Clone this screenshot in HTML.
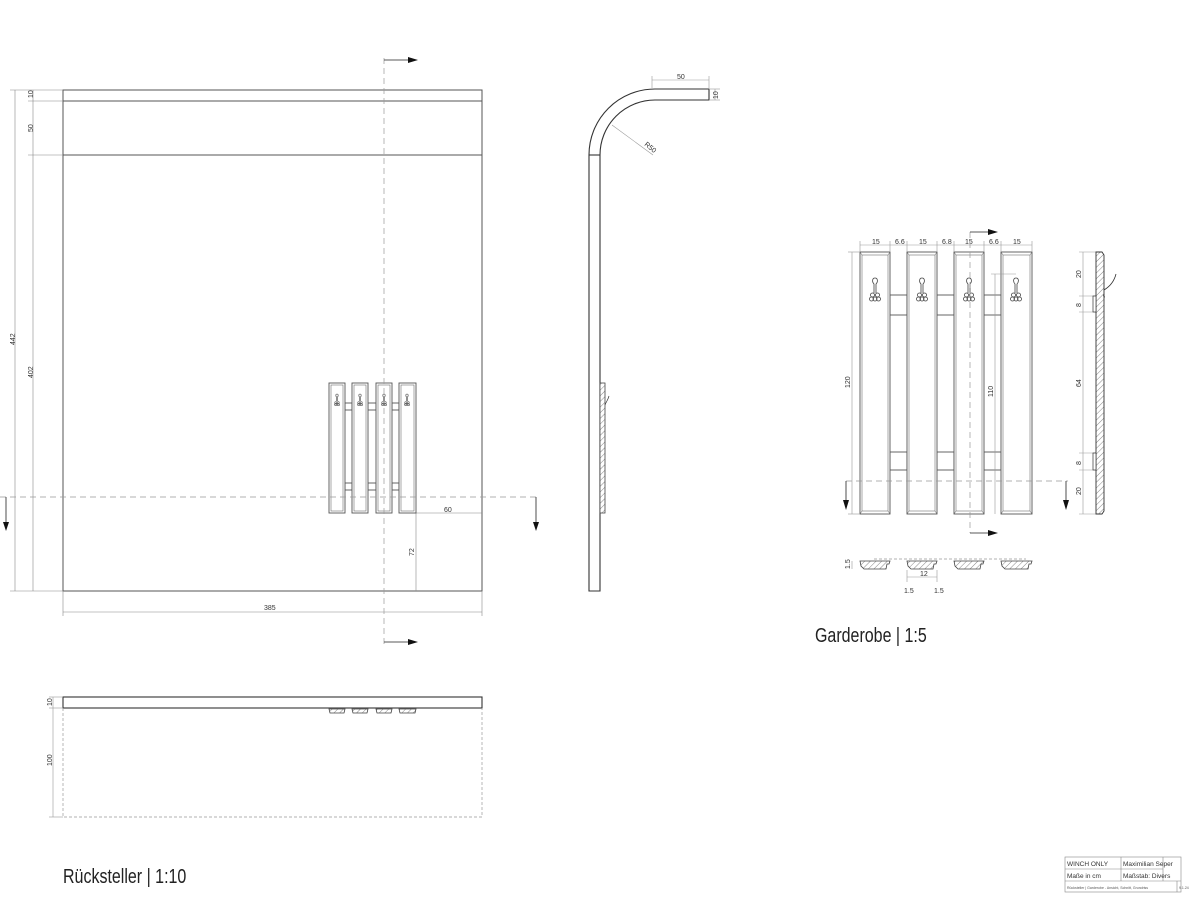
<!DOCTYPE html>
<html><head><meta charset="utf-8"><style>
html,body{margin:0;padding:0;background:#fff;}
svg{display:block;font-family:"Liberation Sans Narrow","Liberation Sans",sans-serif;}
.t{font-size:7px;fill:#333;}
</style></head><body>
<svg width="1200" height="900" viewBox="0 0 1200 900" xmlns="http://www.w3.org/2000/svg">
<defs>
<pattern id="h" width="4" height="4" patternUnits="userSpaceOnUse" patternTransform="rotate(45)">
<rect width="4" height="4" fill="#fff"/><line x1="0" y1="0" x2="0" y2="4" stroke="#555" stroke-width="0.7"/></pattern>
<g id="hook" fill="none" stroke="#444" stroke-width="0.8">
<path d="M0,-12 c-3,0 -3,4 -1,6 l0,9 M0,-12 c3,0 3,4 1,6 l0,9"/>
<circle cx="-2.5" cy="5" r="2"/><circle cx="2.5" cy="5" r="2"/>
<circle cx="-3.5" cy="9" r="2"/><circle cx="0" cy="9" r="2"/><circle cx="3.5" cy="9" r="2"/>
</g>
<g id="hooks" fill="none" stroke="#444" stroke-width="0.6">
<path d="M0,-6 c-1.5,0 -1.5,2 -0.5,3 l0,4 M0,-6 c1.5,0 1.5,2 0.5,3 l0,4"/>
<circle cx="-1.2" cy="2.5" r="1"/><circle cx="1.2" cy="2.5" r="1"/>
<circle cx="-1.6" cy="4.5" r="1"/><circle cx="0" cy="4.5" r="1"/><circle cx="1.6" cy="4.5" r="1"/>
</g>
</defs>

<!-- ========== Front view Rücksteller ========== -->
<g stroke="#555" fill="none" stroke-width="1">
<rect x="63" y="90" width="419" height="501"/>
<line x1="63" y1="101" x2="482" y2="101"/>
<line x1="63" y1="155" x2="482" y2="155"/>
</g>
<g stroke="#888" stroke-width="0.6" fill="none">
<line x1="15" y1="90" x2="15" y2="591"/>
<line x1="33" y1="90" x2="33" y2="591"/>
<line x1="10" y1="90" x2="63" y2="90"/>
<line x1="28" y1="101" x2="63" y2="101"/>
<line x1="28" y1="155" x2="63" y2="155"/>
<line x1="10" y1="591" x2="63" y2="591"/>
<line x1="63" y1="591" x2="63" y2="616"/>
<line x1="482" y1="591" x2="482" y2="616"/>
<line x1="63" y1="612" x2="482" y2="612"/>
<line x1="416" y1="513" x2="482" y2="513"/>
<line x1="416" y1="513" x2="416" y2="591"/>
</g>
<text class="t" transform="translate(33,98) rotate(-90)">10</text>
<text class="t" transform="translate(33,132) rotate(-90)">50</text>
<text class="t" transform="translate(15,345) rotate(-90)">442</text>
<text class="t" transform="translate(33,378) rotate(-90)">402</text>
<text class="t" x="264" y="610">385</text>
<text class="t" x="444" y="512">60</text>
<text class="t" transform="translate(414,556) rotate(-90)">72</text>

<!-- small garderobe in front view -->
<g stroke="#555" fill="#fff" stroke-width="0.9">
<rect x="345" y="403" width="7" height="7"/><rect x="368" y="403" width="8" height="7"/><rect x="392" y="403" width="7" height="7"/>
<rect x="345" y="483" width="7" height="7"/><rect x="368" y="483" width="8" height="7"/><rect x="392" y="483" width="7" height="7"/>
<rect x="329" y="383" width="16" height="130"/><rect x="352" y="383" width="16" height="130"/>
<rect x="376" y="383" width="16" height="130"/><rect x="399" y="383" width="17" height="130"/>
<rect x="331" y="385" width="12" height="126" stroke-width="0.5"/><rect x="354" y="385" width="12" height="126" stroke-width="0.5"/>
<rect x="378" y="385" width="12" height="126" stroke-width="0.5"/><rect x="401" y="385" width="13" height="126" stroke-width="0.5"/>
</g>
<use href="#hooks" x="337" y="400"/><use href="#hooks" x="360" y="400"/><use href="#hooks" x="384" y="400"/><use href="#hooks" x="407" y="400"/>

<!-- section lines main -->
<g stroke="#999" stroke-width="0.7" stroke-dasharray="6,4" fill="none">
<line x1="0" y1="497" x2="540" y2="497"/>
<line x1="384" y1="58" x2="384" y2="645"/>
</g>
<g stroke="#222" stroke-width="0.8">
<line x1="6" y1="497" x2="6" y2="524"/><line x1="536" y1="497" x2="536" y2="524"/>
<line x1="384" y1="60" x2="410" y2="60"/><line x1="384" y1="642" x2="410" y2="642"/>
</g>
<g fill="#111">
<polygon points="3,522 9,522 6,531"/><polygon points="533,522 539,522 536,531"/>
<polygon points="408,57 408,63 418,60"/><polygon points="408,639 408,645 418,642"/>
</g>

<!-- ========== side profile ========== -->
<g stroke="#333" stroke-width="1.1" fill="none">
<path d="M589,591 L589,155 A66,66 0 0 1 655,89 L709,89 L709,100 L655,100 A55,55 0 0 0 600,155 L600,591 Z"/>
<line x1="589" y1="155" x2="600" y2="155"/>
</g>
<rect x="600" y="383" width="5" height="130" fill="url(#h)" stroke="#444" stroke-width="0.8"/>
<path d="M605,405 c1,-3 3,-5 4,-9" stroke="#333" fill="none" stroke-width="0.7"/>
<g stroke="#999" stroke-width="0.6" fill="none">
<line x1="652" y1="80" x2="709" y2="80"/><line x1="652" y1="76" x2="652" y2="88"/><line x1="709" y1="76" x2="709" y2="88"/>
<line x1="715" y1="89" x2="715" y2="100"/><line x1="709" y1="89" x2="720" y2="89"/><line x1="709" y1="100" x2="720" y2="100"/>
<line x1="612" y1="125" x2="653" y2="155"/>
</g>
<text class="t" x="677" y="79">50</text>
<text class="t" transform="translate(718,99) rotate(-90)">10</text>
<text class="t" transform="translate(644,145) rotate(40)">R50</text>

<!-- ========== plan bottom ========== -->
<rect x="63" y="697" width="419" height="11" fill="none" stroke="#333" stroke-width="1.1"/>
<path d="M63,708 L63,817 L482,817 L482,708" fill="none" stroke="#999" stroke-width="0.7" stroke-dasharray="3,2"/>
<g stroke="#999" stroke-width="0.6"><line x1="53" y1="697" x2="53" y2="817"/><line x1="49" y1="697" x2="63" y2="697"/><line x1="49" y1="708" x2="63" y2="708"/><line x1="49" y1="817" x2="63" y2="817"/></g>
<text class="t" transform="translate(52,706) rotate(-90)">10</text>
<text class="t" transform="translate(52,766) rotate(-90)">100</text>
<g stroke="#444" stroke-width="0.8" fill="url(#h)">
<path d="M329,709 h16 l-1,4 h-14 z"/><path d="M352,709 h16 l-1,4 h-14 z"/><path d="M376,709 h16 l-1,4 h-14 z"/><path d="M399,709 h17 l-1,4 h-15 z"/>
</g>

<text x="63" y="883" font-size="20" fill="#222" transform="translate(63,0) scale(0.8,1) translate(-63,0)" style="font-family:'Liberation Sans Narrow','Liberation Sans',sans-serif">Rücksteller | 1:10</text>

<!-- ========== Garderobe 1:5 ========== -->
<g stroke="#555" fill="#fff" stroke-width="0.9">
<rect x="890" y="295" width="17" height="20"/><rect x="937" y="295" width="17" height="20"/><rect x="984" y="295" width="17" height="20"/>
<rect x="890" y="452" width="17" height="18"/><rect x="937" y="452" width="17" height="18"/><rect x="984" y="452" width="17" height="18"/>
<rect x="860" y="252" width="30" height="262"/><rect x="907" y="252" width="30" height="262"/>
<rect x="954" y="252" width="30" height="262"/><rect x="1001" y="252" width="31" height="262"/>
<path d="M862,255 h26 v256 h-26 z M860,252 l2,3 M890,252 l-2,3 M860,514 l2,-3 M890,514 l-2,-3" stroke-width="0.5" fill="none"/>
<path d="M909,255 h26 v256 h-26 z M907,252 l2,3 M937,252 l-2,3 M907,514 l2,-3 M937,514 l-2,-3" stroke-width="0.5" fill="none"/>
<path d="M956,255 h26 v256 h-26 z M954,252 l2,3 M984,252 l-2,3 M954,514 l2,-3 M984,514 l-2,-3" stroke-width="0.5" fill="none"/>
<path d="M1003,255 h27 v256 h-27 z M1001,252 l2,3 M1032,252 l-2,3 M1001,514 l2,-3 M1032,514 l-2,-3" stroke-width="0.5" fill="none"/>
</g>
<use href="#hook" x="875" y="290"/><use href="#hook" x="922" y="290"/><use href="#hook" x="969" y="290"/><use href="#hook" x="1016" y="290"/>
<g stroke="#999" stroke-width="0.6" fill="none">
<line x1="860" y1="245" x2="1032" y2="245"/>
<line x1="860" y1="241" x2="860" y2="252"/><line x1="890" y1="241" x2="890" y2="252"/><line x1="907" y1="241" x2="907" y2="252"/>
<line x1="937" y1="241" x2="937" y2="252"/><line x1="954" y1="241" x2="954" y2="252"/><line x1="984" y1="241" x2="984" y2="252"/>
<line x1="1001" y1="241" x2="1001" y2="252"/><line x1="1032" y1="241" x2="1032" y2="252"/>
<line x1="852" y1="252" x2="852" y2="514"/><line x1="848" y1="252" x2="860" y2="252"/><line x1="848" y1="514" x2="860" y2="514"/>
<line x1="995" y1="274" x2="995" y2="514"/><line x1="991" y1="274" x2="1016" y2="274"/>
<line x1="1083" y1="252" x2="1083" y2="514"/>
<line x1="1079" y1="252" x2="1096" y2="252"/><line x1="1079" y1="296" x2="1096" y2="296"/><line x1="1079" y1="312" x2="1096" y2="312"/>
<line x1="1079" y1="453" x2="1096" y2="453"/><line x1="1079" y1="470" x2="1096" y2="470"/><line x1="1079" y1="514" x2="1096" y2="514"/>
<line x1="907" y1="570" x2="907" y2="582"/><line x1="937" y1="570" x2="937" y2="582"/><line x1="907" y1="577" x2="937" y2="577"/>
<line x1="852" y1="561" x2="852" y2="569"/>
</g>
<g class="t">
<text x="872" y="244">15</text><text x="895" y="244">6.6</text><text x="919" y="244">15</text><text x="942" y="244">6.8</text>
<text x="965" y="244">15</text><text x="989" y="244">6.6</text><text x="1013" y="244">15</text>
<text x="920" y="576">12</text><text x="904" y="593">1.5</text><text x="934" y="593">1.5</text>
</g>
<text class="t" transform="translate(850,388) rotate(-90)">120</text>
<text class="t" transform="translate(993,397) rotate(-90)">110</text>
<text class="t" transform="translate(1081,278) rotate(-90)">20</text>
<text class="t" transform="translate(1081,307) rotate(-90)">8</text>
<text class="t" transform="translate(1081,387) rotate(-90)">64</text>
<text class="t" transform="translate(1081,465) rotate(-90)">8</text>
<text class="t" transform="translate(1081,495) rotate(-90)">20</text>
<text class="t" transform="translate(850,569) rotate(-90)">1.5</text>

<g stroke="#999" stroke-width="0.7" stroke-dasharray="6,4" fill="none">
<line x1="846" y1="481" x2="1068" y2="481"/>
<line x1="970" y1="232" x2="970" y2="533"/>
<line x1="874" y1="559" x2="1026" y2="559" stroke-dasharray="3,2"/>
</g>
<g stroke="#222" stroke-width="0.8">
<line x1="846" y1="481" x2="846" y2="502"/><line x1="1066" y1="481" x2="1066" y2="502"/>
<line x1="970" y1="232" x2="990" y2="232"/><line x1="970" y1="533" x2="990" y2="533"/>
</g>
<g fill="#111">
<polygon points="843,500 849,500 846,510"/><polygon points="1063,500 1069,500 1066,510"/>
<polygon points="988,229 988,235 998,232"/><polygon points="988,530 988,536 998,533"/>
</g>

<!-- side view -->
<path d="M1096,252 L1102,252 L1104,255 L1104,511 L1102,514 L1096,514 Z" fill="url(#h)" stroke="#333" stroke-width="0.9"/>
<rect x="1093" y="296" width="3" height="16" fill="#fff" stroke="#333" stroke-width="0.7"/>
<rect x="1093" y="453" width="3" height="17" fill="#fff" stroke="#333" stroke-width="0.7"/>
<path d="M1104,290 c5,-3 10,-8 12,-16 M1104,294 c-1,2 0,3 1,3" stroke="#333" fill="none" stroke-width="0.8"/>

<!-- section -->
<g stroke="#444" stroke-width="0.8" fill="url(#h)">
<path d="M860,561 h30 l-1,3 l-2,0 l-1,5 h-22 l-3,-3 z"/>
<path d="M907,561 h30 l-1,3 l-2,0 l-1,5 h-22 l-3,-3 z"/>
<path d="M954,561 h30 l-1,3 l-2,0 l-1,5 h-22 l-3,-3 z"/>
<path d="M1001,561 h31 l-1,3 l-2,0 l-1,5 h-23 l-3,-3 z"/>
</g>

<text x="815" y="642" font-size="20" fill="#222" transform="translate(815,0) scale(0.8,1) translate(-815,0)">Garderobe | 1:5</text>

<!-- title block -->
<g stroke="#888" stroke-width="0.6" fill="none">
<rect x="1065" y="857" width="116" height="35"/>
<line x1="1065" y1="869" x2="1163" y2="869"/>
<line x1="1065" y1="881" x2="1181" y2="881"/>
<line x1="1121" y1="857" x2="1121" y2="881"/>
<line x1="1177" y1="881" x2="1177" y2="892"/>
<line x1="1163" y1="857" x2="1163" y2="881"/>
</g>
<g font-size="6.5" fill="#333">
<text x="1067" y="866">WINCH ONLY</text><text x="1123" y="866">Maximilian Seper</text>
<text x="1067" y="878">Maße in cm</text><text x="1123" y="878">Maßstab: Divers</text>
</g>
<g font-size="3.5" fill="#555">
<text x="1067" y="889">Rücksteller | Garderobe - Ansicht, Schnitt, Grundriss</text>
<text x="1179" y="889">9.1.24</text>
</g>
</svg>
</body></html>
